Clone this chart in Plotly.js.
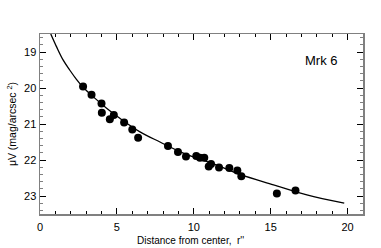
<!DOCTYPE html>
<html>
<head>
<meta charset="utf-8">
<script src="https://cdn.plot.ly/plotly-3.0.1.min.js"></script>
<style>html,body{margin:0;padding:0;background:#fff;}#chart{width:381px;height:248px;}</style>
</head>
<body>
<div id="chart"></div>
<script>
// Observed surface brightness points
const obsR = [2.80, 3.35, 4.00, 4.02, 4.54, 4.80, 5.47, 6.00, 6.38,
              8.32, 8.97, 9.49, 10.16, 10.40, 10.68, 10.97, 11.12, 11.64, 12.31, 12.83, 13.09, 15.40, 16.61];
const obsMu = [19.96, 20.19, 20.43, 20.69, 20.87, 20.75, 20.96, 21.15, 21.38,
               21.61, 21.78, 21.90, 21.89, 21.94, 21.94, 22.18, 22.11, 22.21, 22.22, 22.29, 22.45, 22.93, 22.85];
// Model fit curve
const fitR = [0.70, 1.07, 1.50, 1.93, 2.37, 2.80, 3.45, 4.33, 5.19, 6.50, 7.80, 9.32, 11.49, 13.00, 15.18, 17.35, 19.78];
const fitMu = [18.50, 18.85, 19.22, 19.50, 19.76, 19.98, 20.24, 20.56, 20.84, 21.22, 21.50, 21.81, 22.14, 22.40, 22.69, 22.97, 23.20];
const xTicks = [0, 5, 10, 15, 20];
const yTicks = [19, 20, 21, 22, 23];
const label = "Mrk 6";
const xTitle = "Distance from center,  r''";
const yTitle = "μV (mag/arcsec <sup>2</sup>)";

const font = {family: "Liberation Sans, Arial, sans-serif", color: "#000"};
const data = [
  {x: fitR, y: fitMu, mode: "lines", line: {color: "#000", width: 1.3, shape: "spline"}, hoverinfo: "skip"},
  {x: obsR, y: obsMu, mode: "markers", marker: {color: "#000", size: 8}}
];
const layout = {
  width: 381, height: 248,
  margin: {l: 40, r: 18, t: 34, b: 34},
  paper_bgcolor: "#fff", plot_bgcolor: "#fff",
  showlegend: false,
  font: Object.assign({size: 11}, font),
  xaxis: {
    range: [0, 21], tickvals: xTicks, ticktext: xTicks.map(String),
    ticks: "inside", ticklen: 6, tickcolor: "#000", tickwidth: 1,
    showline: true, linecolor: "#808080", linewidth: 1.5, mirror: "allticks",
    showgrid: false, zeroline: false,
    minor: {dtick: 1, tick0: 0, ticks: "inside", ticklen: 3, tickcolor: "#000", showgrid: false},
    tickfont: Object.assign({size: 11}, font),
    ticklabelstandoff: 2
  },
  yaxis: {
    range: [23.5, 18.5], tickvals: yTicks, ticktext: yTicks.map(String),
    ticks: "inside", ticklen: 6, tickcolor: "#000", tickwidth: 1,
    showline: true, linecolor: "#808080", linewidth: 1.5, mirror: "allticks",
    showgrid: false, zeroline: false,
    minor: {dtick: 0.2, tick0: 19, ticks: "inside", ticklen: 3, tickcolor: "#808080", showgrid: false},
    tickfont: Object.assign({size: 11}, font),
    title: {text: yTitle, font: Object.assign({size: 10.5}, font), standoff: 5}
  },
  annotations: [
    {text: label, xref: "paper", yref: "paper", x: 0.87, y: 0.855, xanchor: "center", yanchor: "middle",
     showarrow: false, font: Object.assign({size: 13}, font)},
    {text: xTitle, xref: "paper", yref: "paper", x: 0.465, y: -0.145, xanchor: "center", yanchor: "middle",
     showarrow: false, font: Object.assign({size: 10}, font)}
  ]
};
Plotly.newPlot("chart", data, layout, {staticPlot: true, displayModeBar: false});
</script>
</body>
</html>
